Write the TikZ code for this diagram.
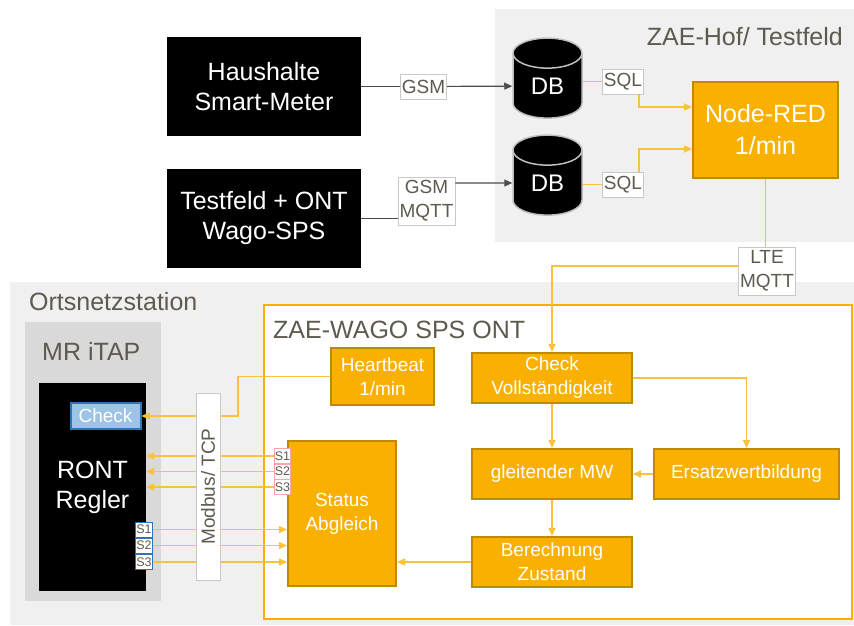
\documentclass[tikz,border=0pt]{standalone}
\usepackage{fontspec}
\setmainfont{Liberation Sans}
\usetikzlibrary{arrows.meta,shapes.geometric,calc}

\definecolor{zae}{HTML}{F9B000}
\definecolor{zaedark}{HTML}{BF8A00}
\definecolor{zaeline}{HTML}{FAC13C}
\definecolor{panel}{HTML}{F0F0F0}
\definecolor{panelb}{HTML}{D9D9D9}
\definecolor{txt}{HTML}{5F5A4F}
\definecolor{lblline}{HTML}{C8C8C8}
\definecolor{blueb}{HTML}{2E75B6}
\definecolor{bluef}{HTML}{9DC3E6}
\definecolor{redb}{HTML}{F4A6A6}

\begin{document}
\begin{tikzpicture}[x=1pt, y=-1pt, >={Triangle[length=8pt,width=7pt]},
  big/.style={font=\fontsize{25}{30}\selectfont},
  mid/.style={font=\fontsize{19}{24}\selectfont},
  title/.style={text=txt, font=\fontsize{25}{30}\selectfont, inner sep=0pt},
  blk/.style={fill=black, text=white, big, align=center, inner sep=0pt},
  ora/.style={fill=zae, draw=zaedark, line width=2pt, text=white, mid, align=center, inner sep=0pt},
  lbl/.style={fill=white, draw=lblline, line width=0.8pt, text=txt, mid, align=center, inner sep=1.5pt, minimum height=25pt},
  sq/.style={fill=white, text=txt, font=\fontsize{12.5}{12.5}\selectfont, inner sep=0.5pt, minimum width=15pt, minimum height=15pt, line width=1pt},
  db/.style={cylinder, shape border rotate=90, aspect=0.9, fill=black, draw=black!25, line width=1.5pt, text=white, font=\fontsize{24}{28}\selectfont, minimum width=69pt, minimum height=80pt, inner sep=0pt},
  oline/.style={draw=zaeline, line width=1.5pt},
  gline/.style={draw=black!70, line width=1.2pt}]
  \useasboundingbox (0,0) rectangle (854,626);

  % backgrounds
  \fill[panel] (495,9) rectangle (854,242);
  \fill[panel] (10,282) rectangle (854,625);
  \fill[panelb] (25,322) rectangle (161,601);
  \draw[zae, line width=2.5pt, fill=white] (264,305) rectangle (852,619);

  \node[title, anchor=east] (hof) at (843,37) {ZAE-Hof/ Testfeld};
  \node[title, anchor=west] (ons) at (29,302) {Ortsnetzstation};
  \node[title, anchor=west] (wago) at (273,330) {ZAE-WAGO SPS ONT};
  \node[title, anchor=west] (itap) at (42,351) {MR iTAP};

  % Testfeld / Server
  \node[blk, minimum width=194pt, minimum height=99pt] (hh) at (264,86.5) {Haushalte\\Smart-Meter};
  \node[blk, minimum width=194pt, minimum height=99pt] (tf) at (264,218.5) {Testfeld + ONT\\Wago-SPS};
  \node[db] (db1) at (547.5,86) {DB};
  \node[db] (db2) at (547.5,183) {DB};
  \node[lbl] (gsm) at (423.5,86.5) {GSM};
  \node[lbl, minimum height=48pt] (gsmq) at (426.5,201) {GSM\\MQTT};
  \node[lbl] (sql1) at (623,81.5) {SQL};
  \node[lbl] (sql2) at (623,184.5) {SQL};
  \node[ora, font=\fontsize{25}{32}\selectfont, minimum width=145pt, minimum height=96pt] (red) at (765.5,130) {Node-RED\\1/min};
  \node[lbl, minimum height=48pt] (lte) at (767,271) {LTE\\MQTT};

  \draw[gline] (hh) -- (gsm);
  \draw[gline,->] (gsm) -- (db1);
  \draw[gline] (tf.east) -- (tf.east -| gsmq.west);
  \draw[gline,->] (gsmq.east |- db2) -- (db2);
  \draw[oline] (sql1.west -| db1.east) -- (sql1.west);
  \draw[oline] (sql2.west -| db2.east) -- (sql2.west);
  \draw[oline,->] ($(sql1.south east)+(-5,0)$) |- ($(red.west)+(0,-23)$);
  \draw[oline,->] ($(sql2.north east)+(-5,0)$) |- ($(red.west)+(0,19)$);
  \draw[oline] (red.south) -- (red.south |- lte.north);

  % SPS
  \node[ora, minimum width=103pt, minimum height=57pt] (hb) at (382.5,376.5) {Heartbeat\\1/min};
  \node[ora, minimum width=160pt, minimum height=50pt] (chk) at (552,378) {Check\\Vollständigkeit};
  \node[ora, minimum width=160pt, minimum height=50pt] (gmw) at (552,474) {gleitender MW};
  \node[ora, minimum width=185pt, minimum height=50pt] (ers) at (746.5,474) {Ersatzwertbildung};
  \node[ora, minimum width=160pt, minimum height=50pt] (bz) at (552,562) {Berechnung\\Zustand};
  \node[ora, minimum width=108pt, minimum height=145pt] (st) at (342,513.5) {Status\\Abgleich};

  \draw[oline,->] ($(lte.west)+(0,-5)$) -| (chk);
  \draw[oline,->] (chk) -- (gmw);
  \draw[oline,->] (gmw) -- (bz);
  \draw[oline,->] (ers) -- (gmw);
  \draw[oline,->] (chk) -| (ers);
  \draw[oline,->] (bz) -- (bz -| st.east);

  % Regler
  \node[blk, minimum width=107pt, minimum height=208pt] (ront) at (92.5,487) {RONT\\Regler};
  \node[fill=bluef, draw=blueb, line width=2pt, text=white, mid, minimum width=70pt, minimum height=26pt, inner sep=0pt] (chkr) at (105.5,416) {Check};
  \node[sq, draw=blueb] (l1) at (144,529.5) {S1};
  \node[sq, draw=blueb] (l2) at (144,545.5) {S2};
  \node[sq, draw=blueb] (l3) at (144,562) {S3};
  \node[sq, draw=redb] (r1) at (282.5,456) {S1};
  \node[sq, draw=redb] (r2) at (282.5,471.5) {S2};
  \node[sq, draw=redb] (r3) at (282.5,487) {S3};

  \foreach \i in {1,2,3} {
    \draw[oline,->] (r\i.west) -- (r\i.west -| ront.east);
    \draw[oline,->] (l\i.east) -- (l\i.east -| st.west);
  }
  \coordinate (hbk) at (238,376.5);
  \draw[oline,->] (hb.west) -- (hbk) |- (chkr.east);

  \node[fill=white, draw=lblline, line width=1pt, rotate=90, minimum width=187pt, minimum height=24pt, text=txt, mid, inner sep=0pt] (mb) at (208,486.5) {Modbus/ TCP};
\end{tikzpicture}
\end{document}
